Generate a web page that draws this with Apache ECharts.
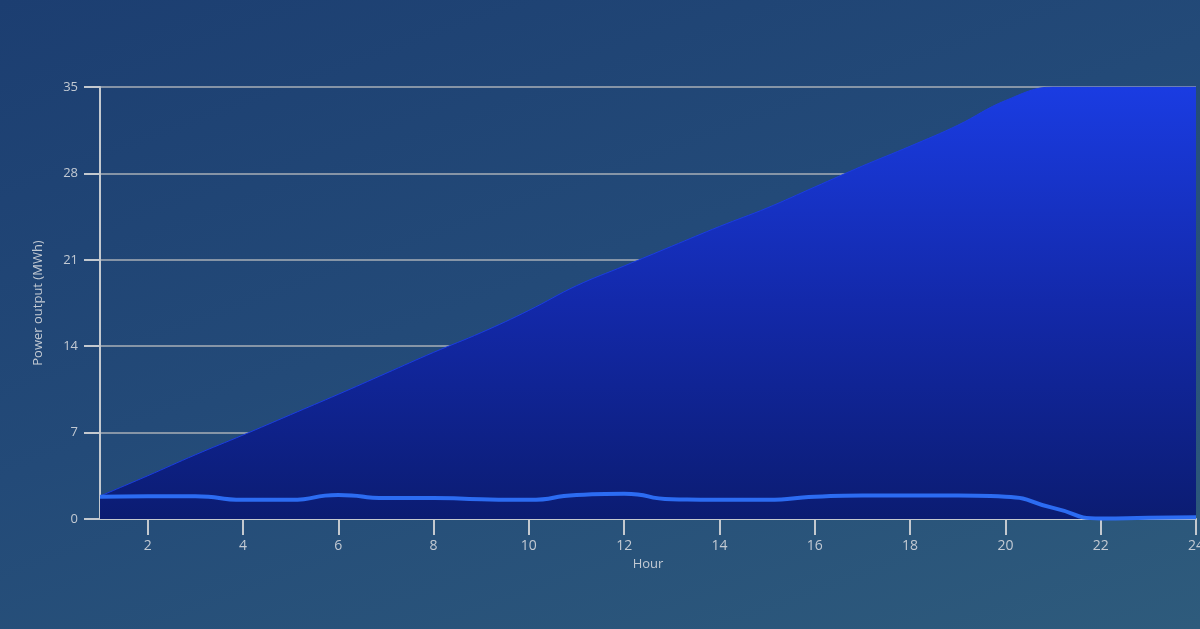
<!DOCTYPE html>
<html>
<head>
<meta charset="utf-8">
<script src="https://cdn.jsdelivr.net/npm/echarts@6/dist/echarts.min.js"></script>
<style>
html,body{margin:0;padding:0;width:1200px;height:629px;overflow:hidden;}
body{background:linear-gradient(160deg,#1c3e71 0%,#234a78 45%,#2e5b7c 100%);}
#chart{width:1200px;height:629px;}
</style>
</head>
<body>
<div id="chart"></div>
<script>
const hours = ['1','2','3','4','5','6','7','8','9','10','11','12','13','14','15','16','17','18','19','20','21','22','23','24'];
const cumulativeOutput = [1.85,3.5,5.2,6.8,8.45,10.1,11.8,13.5,15.1,16.9,18.9,20.5,22.1,23.7,25.2,26.9,28.6,30.2,31.9,33.9,35,35,35,35];
const hourlyOutput = [1.8,1.85,1.85,1.55,1.55,1.95,1.7,1.7,1.6,1.55,1.95,2.05,1.6,1.55,1.55,1.8,1.9,1.9,1.9,1.8,0.9,0.05,0.1,0.15];
const yTicks = {min:0, max:35, interval:7};

const txt = '#c3cad3';
const axisCol = '#c4c9cf';
const chart = echarts.init(document.getElementById('chart'));
chart.setOption({
  backgroundColor: 'transparent',
  animation: false,
  grid: {left:100, right:4, top:87, bottom:110, containLabel:false, outerBoundsMode:'none'},
  xAxis: {
    type:'category', data:hours, boundaryGap:false,
    name:'Hour', nameLocation:'middle', nameGap:37,
    nameTextStyle:{color:txt, fontSize:13, fontFamily:'Open Sans'},
    axisLine:{lineStyle:{color:axisCol, width:2}},
    axisTick:{length:16, lineStyle:{color:axisCol, width:2}, interval:(i,v)=>(+v)%2===0},
    axisLabel:{color:txt, fontSize:14, margin:20, fontFamily:'Open Sans', interval:(i,v)=>(+v)%2===0},
    splitLine:{show:false}
  },
  yAxis: {
    type:'value', min:yTicks.min, max:yTicks.max, interval:yTicks.interval,
    name:'Power output (MWh)', nameLocation:'middle', nameGap:55,
    nameTextStyle:{color:txt, fontSize:13, fontFamily:'Open Sans'},
    axisLine:{show:true, lineStyle:{color:axisCol, width:2}},
    axisTick:{show:true, length:16, lineStyle:{color:axisCol, width:2}},
    axisLabel:{color:txt, fontSize:13, margin:22, fontFamily:'Open Sans'},
    splitLine:{lineStyle:{color:'#a8afb7', width:1.5}}
  },
  series: [
    {
      type:'line', data:cumulativeOutput, smooth:0.4, symbol:'none', clip:true,
      lineStyle:{width:1, color:'#1b3de2'},
      areaStyle:{opacity:1, color:new echarts.graphic.LinearGradient(0,0,0,1,[
        {offset:0, color:'#1a3ce2'},
        {offset:0.5, color:'#1329aa'},
        {offset:1, color:'#0b1c72'}
      ])},
      z:2
    },
    {
      type:'line', data:hourlyOutput, smooth:0.6, symbol:'none',
      lineStyle:{width:4, color:'#2c6cf2'},
      z:3
    }
  ]
});
</script>
</body>
</html>
